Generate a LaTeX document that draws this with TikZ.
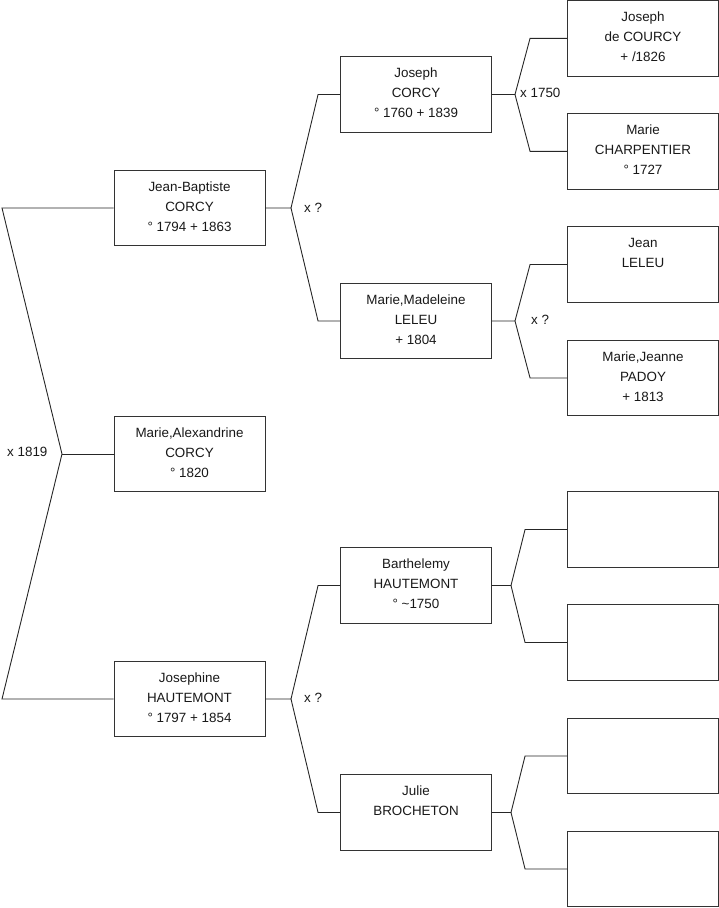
\documentclass[tikz,border=0pt]{standalone}
\usepackage{fontspec}
\setmainfont{Liberation Sans}
\begin{document}
\begin{tikzpicture}[x=1bp,y=-1bp,
  box/.style={draw=black!80, line width=0.9bp, minimum width=151bp, minimum height=75.5bp, inner sep=0pt, fill=white},
  txt/.style={anchor=north, inner sep=0pt, align=center, text=black!90, font=\fontsize{13.4bp}{20bp}\selectfont},
  lbl/.style={anchor=west, inner sep=0pt, text=black!90, font=\fontsize{13.4bp}{16bp}\selectfont},
  conn/.style={draw=black!85, line width=0.9bp}]
\useasboundingbox (0,0) rectangle (719,908);
\newcommand{\st}{\rule{0pt}{12bp}}
% level 1
\node[box] (jb) at (189.5,208) {};
\node[box] (ma) at (189.5,454) {};
\node[box] (jo) at (189.5,699) {};
% level 2
\node[box] (jc) at (416,94.5) {};
\node[box] (mm) at (416,321) {};
\node[box] (bh) at (416,585.5) {};
\node[box] (jl) at (416,812.5) {};
% level 3
\node[box] (p1) at (643,38.3) {};
\node[box] (p2) at (643,151.3) {};
\node[box] (p3) at (643,264.5) {};
\node[box] (p4) at (643,378) {};
\node[box] (p5) at (643,529.5) {};
\node[box] (p6) at (643,642.5) {};
\node[box] (p7) at (643,756) {};
\node[box] (p8) at (643,869) {};
% texts
\node[txt] (jbt) at ([yshift=-9bp]jb.north) {\st Jean-Baptiste\\CORCY\\° 1794 + 1863};
\node[txt] (mat) at ([yshift=-9bp]ma.north) {\st Marie,Alexandrine\\CORCY\\° 1820};
\node[txt] (jot) at ([yshift=-9bp]jo.north) {\st Josephine\\HAUTEMONT\\° 1797 + 1854};
\node[txt] (jct) at ([yshift=-9bp]jc.north) {\st Joseph\\CORCY\\° 1760 + 1839};
\node[txt] (mmt) at ([yshift=-9bp]mm.north) {\st Marie,Madeleine\\LELEU\\+ 1804};
\node[txt] (bht) at ([yshift=-9bp]bh.north) {\st Barthelemy\\HAUTEMONT\\° \textasciitilde 1750};
\node[txt] (jlt) at ([yshift=-9bp]jl.north) {\st Julie\\BROCHETON};
\node[txt] (p1t) at ([yshift=-9bp]p1.north) {\st Joseph\\de COURCY\\+ /1826};
\node[txt] (p2t) at ([yshift=-9bp]p2.north) {\st Marie\\CHARPENTIER\\° 1727};
\node[txt] (p3t) at ([yshift=-9bp]p3.north) {\st Jean\\LELEU};
\node[txt] (p4t) at ([yshift=-9bp]p4.north) {\st Marie,Jeanne\\PADOY\\+ 1813};
% forks
\coordinate (r0) at (62,454);
\coordinate (f1) at (291,208);
\coordinate (f2) at (291,699);
\coordinate (g1) at (515,94.5);
\coordinate (g2) at (515,321);
\coordinate (g3) at (511,585.5);
\coordinate (g4) at (511,812.5);
% connectors
\draw[conn] (jb.west) -- (2,208) -- (r0) -- (2,699) -- (jo.west);
\draw[conn] (r0) -- (ma.west);
\draw[conn] (jb.east) -- (f1) -- ([xshift=-22bp]jc.west) -- (jc.west);
\draw[conn] (f1) -- ([xshift=-22bp]mm.west) -- (mm.west);
\draw[conn] (jo.east) -- (f2) -- ([xshift=-22bp]bh.west) -- (bh.west);
\draw[conn] (f2) -- ([xshift=-22bp]jl.west) -- (jl.west);
\draw[conn] (jc.east) -- (g1) -- ([xshift=-37bp]p1.west) -- (p1.west);
\draw[conn] (g1) -- ([xshift=-37bp]p2.west) -- (p2.west);
\draw[conn] (mm.east) -- (g2) -- ([xshift=-37bp]p3.west) -- (p3.west);
\draw[conn] (g2) -- ([xshift=-37bp]p4.west) -- (p4.west);
\draw[conn] (bh.east) -- (g3) -- ([xshift=-42bp]p5.west) -- (p5.west);
\draw[conn] (g3) -- ([xshift=-42bp]p6.west) -- (p6.west);
\draw[conn] (jl.east) -- (g4) -- ([xshift=-42bp]p7.west) -- (p7.west);
\draw[conn] (g4) -- ([xshift=-42bp]p8.west) -- (p8.west);
% labels
\node[lbl] (l0) at (7,452) {x 1819};
\node[lbl] (l1) at (304,208) {x ?};
\node[lbl] (l2) at (304,698) {x ?};
\node[lbl] (l3) at (520,93) {x 1750};
\node[lbl] (l4) at (531,320) {x ?};
\end{tikzpicture}
\end{document}
